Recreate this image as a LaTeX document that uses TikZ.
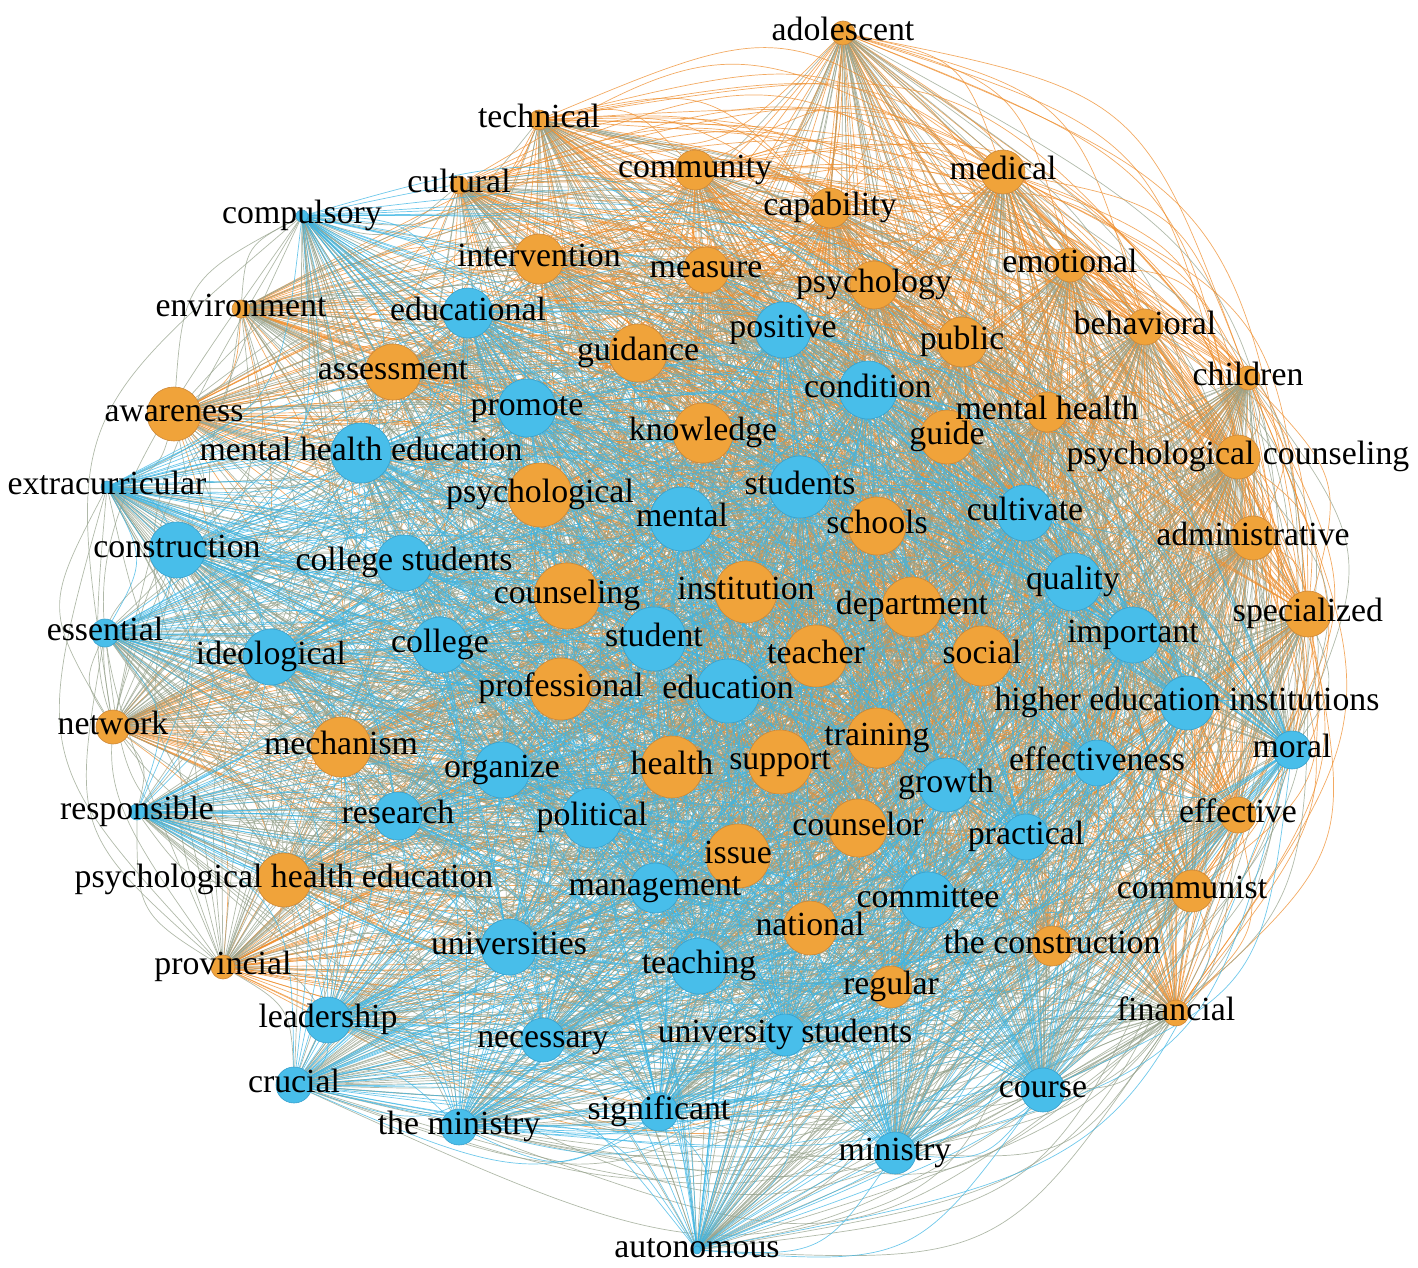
\documentclass[tikz,border=0pt]{standalone}
\usepackage{fontspec}
\setmainfont{Liberation Serif}
\usetikzlibrary{calc}
\definecolor{onode}{RGB}{240,163,58}
\definecolor{oline}{RGB}{205,135,55}
\definecolor{bnode}{RGB}{72,190,234}
\definecolor{bline}{RGB}{55,160,205}
\definecolor{oedge}{RGB}{238,142,45}
\definecolor{bedge}{RGB}{62,182,228}
\definecolor{medge}{RGB}{150,162,140}
\pgfdeclarelayer{edgelayer}
\pgfdeclarelayer{textlayer}
\pgfsetlayers{edgelayer,main,textlayer}
\tikzset{
  onodestyle/.style={circle, fill=onode, draw=oline, line width=0.6pt, inner sep=0pt},
  bnodestyle/.style={circle, fill=bnode, draw=bline, line width=0.6pt, inner sep=0pt},
  lbl/.style={anchor=base, yshift=-7.5pt, inner sep=0pt, text=black, font=\fontsize{33.8}{40}\selectfont},
  edgeline/.style={line width=0.7pt, draw opacity=0.75}
}
\begin{document}
\begin{tikzpicture}[x=1pt,y=-1pt]
\useasboundingbox (0,0) rectangle (1418,1268);
% orange nodes
\foreach \i/\x/\y/\r/\t in {
1/843/33/12/adolescent,
2/539/120/10/technical,
3/695/170/20/community,
4/459/185/9/cultural,
5/830/208/20/capability,
6/1003/172/22/medical,
7/539/259/25/intervention,
8/706/270/23/measure,
9/874/285/24/psychology,
10/1070/265/17/emotional,
11/241/309/9/environment,
12/393/372/28/assessment,
13/638/353/29/guidance,
14/962/342/25/public,
15/1145/327/18/behavioral,
16/1248/378/12/children,
17/174/414/27/awareness,
18/703/433/30/knowledge,
19/1047/412/20/mental health,
20/947/437/27/guide,
21/1238/457/22/psychological counseling,
22/540/495/32/psychological,
23/877/526/29/schools,
24/1253/538/22/administrative,
25/567/596/33/counseling,
26/746/592/31/institution,
27/912/607/30/department,
28/1308/614/23/specialized,
29/816/656/31/teacher,
30/982/656/30/social,
31/561/689/31/professional,
32/113/727/17/network,
33/341/747/30/mechanism,
34/877/738/30/training,
35/672/767/31/health,
36/780/762/32/support,
37/858/828/29/counselor,
38/738/856/32/issue,
39/1238/815/18/effective,
40/284/880/27/psychological health education,
41/1192/891/21/communist,
42/810/928/27/national,
43/1052/946/20/the construction,
44/223/967/12/provincial,
45/891/987/21/regular,
46/1176/1013/13/financial}{
  \node[onodestyle, minimum size={2*\r pt}] (n\i) at (\x,\y) {};
  \begin{pgfonlayer}{textlayer}
    \node[lbl] (l\i) at (n\i.center) {\t};
  \end{pgfonlayer}
}
% blue nodes
\foreach \i/\x/\y/\r/\t in {
47/302/216/6/compulsory,
48/468/313/25/educational,
49/783/330/28/positive,
50/868/390/29/condition,
51/527/408/29/promote,
52/361/453/30/mental health education,
53/800/487/31/students,
54/107/487/6/extracurricular,
55/682/519/32/mental,
56/1025/513/28/cultivate,
57/177/550/28/construction,
58/404/563/28/college students,
59/1073/582/29/quality,
60/105/633/14/essential,
61/271/657/28/ideological,
62/440/645/28/college,
63/654/639/32/student,
64/1133/635/28/important,
65/728/691/32/education,
66/1187/703/27/higher education institutions,
67/1292/750/19/moral,
68/1097/763/23/effectiveness,
69/502/770/28/organize,
70/946/785/27/growth,
71/398/816/24/research,
72/137/812/8/responsible,
73/592/818/30/political,
74/1026/837/23/practical,
75/655/888/25/management,
76/928/900/28/committee,
77/509/947/28/universities,
78/699/966/28/teaching,
79/328/1020/23/leadership,
80/543/1040/22/necessary,
81/785/1035/21/university students,
82/294/1085/18/crucial,
83/659/1112/19/significant,
84/459/1127/18/the ministry,
85/1043/1090/22/course,
86/895/1153/21/ministry,
87/697/1250/4/autonomous}{
  \node[bnodestyle, minimum size={2*\r pt}] (n\i) at (\x,\y) {};
  \begin{pgfonlayer}{textlayer}
    \node[lbl] (l\i) at (n\i.center) {\t};
  \end{pgfonlayer}
}
% edges
\begin{pgfonlayer}{edgelayer}
\foreach \i in {1,...,86}{
  \pgfmathtruncatemacro\jstart{\i+1}
  \foreach \j in {\jstart,...,87}{
    \ifnum\j<47 \def\ec{oedge}\else\ifnum\i>46 \def\ec{bedge}\else\def\ec{medge}\fi\fi
    \draw[edgeline, draw=\ec] let \p1=(n\i.center), \p2=(n\j.center) in
      (\p1) .. controls ({0.5*\x1+0.5*\x2-0.28*(\y2-\y1)},{0.5*\y1+0.5*\y2+0.28*(\x2-\x1)}) .. (\p2);
  }
}
\end{pgfonlayer}
\end{tikzpicture}
\end{document}
